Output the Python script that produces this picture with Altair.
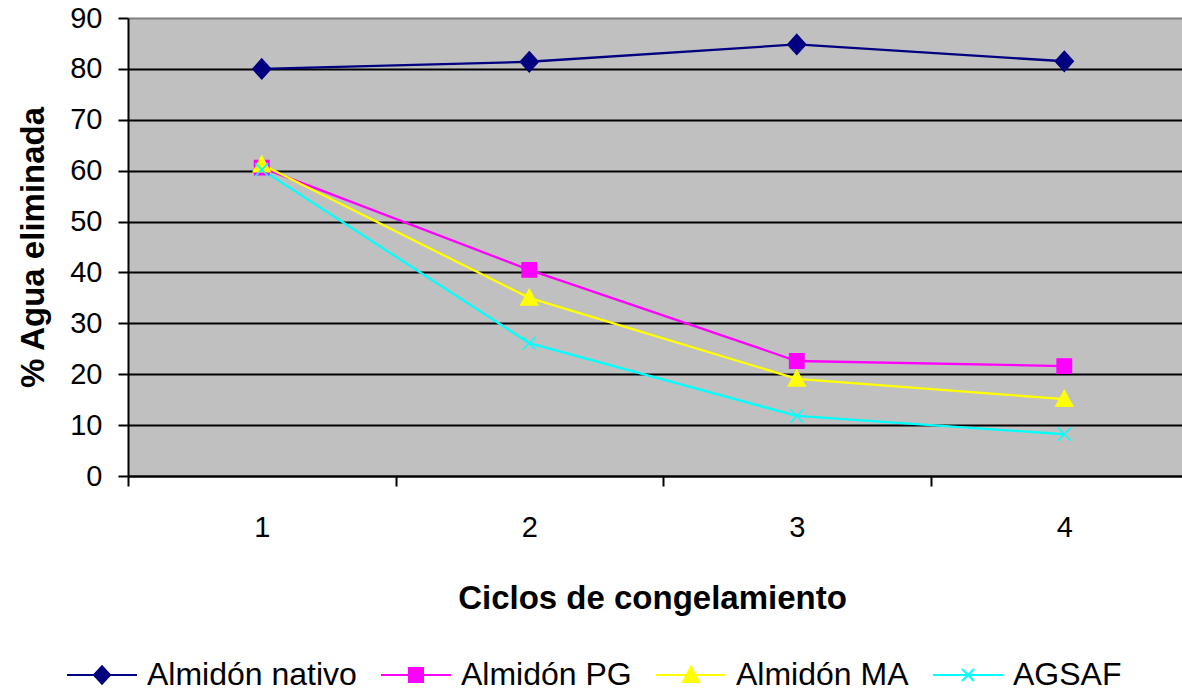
import altair as alt
import pandas as pd

# ---- data ----
ciclos = [1, 2, 3, 4]
series = ["Almidón nativo", "Almidón PG", "Almidón MA", "AGSAF"]
nativo = [80.0, 81.4, 84.8, 81.5]
pg = [60.6, 40.5, 22.6, 21.6]
ma = [61.2, 35.0, 19.1, 15.1]
agsaf = [60.2, 26.1, 11.8, 8.2]
colors = ["#000080", "#FF00FF", "#FFFF00", "#00FFFF"]
y_ticks = [0, 10, 20, 30, 40, 50, 60, 70, 80, 90]
x_ticks = [0.5, 1, 1.5, 2, 2.5, 3, 3.5, 4]

rows = []
for name, vals in zip(series, [nativo, pg, ma, agsaf]):
    for c, v in zip(ciclos, vals):
        rows.append({"serie": name, "ciclo": c, "valor": v})
df = pd.DataFrame(rows)

# marker shapes (plot)
point_paths = [
    "M0,-1L0.9,0L0,1L-0.9,0Z",
    "M-0.72,-0.72H0.72V0.72H-0.72Z",
    "M0,-0.85L0.85,0.72L-0.85,0.72Z",
    "M-0.65,-0.65L0.65,0.65M-0.65,0.65L0.65,-0.65",
]
# legend symbols: line + marker
legend_paths = [
    "M-1,0H1M0,-0.25L0.23,0L0,0.25L-0.23,0Z",
    "M-1,0H1M-0.2,-0.2H0.2V0.2H-0.2Z",
    "M-1,0H1M0,-0.24L0.23,0.2L-0.23,0.2Z",
    "M-1,0H1M-0.17,-0.17L0.17,0.17M-0.17,0.17L0.17,-0.17",
]
expr = ""
for name, p in zip(series, legend_paths):
    expr += f"datum.value === '{name}' ? '{p}' : "
expr += "'circle'"

FONT = "Liberation Sans"

x_enc = alt.X(
    "ciclo:Q",
    scale=alt.Scale(domain=[0.5, 4.44], nice=False, zero=False),
    axis=alt.Axis(
        values=x_ticks,
        labelExpr="datum.value % 1 === 0 ? '' + datum.value : ''",
        labelFlush=False,
        labelFont=FONT,
        labelFontSize=29,
        labelColor="black",
        labelPadding=27,
        grid=False,
        domainColor="black",
        domainWidth=2,
        tickColor={"condition": {"test": "datum.value % 1 === 0", "value": "transparent"}, "value": "black"},
        tickWidth=2,
        tickSize=10,
        title="Ciclos de congelamiento",
        titleFont=FONT,
        titleFontSize=33,
        titleFontWeight="bold",
        titleColor="black",
        titleX=524,
        titleY=132,
        titleAlign="center",
        titleBaseline="alphabetic",
    ),
)
y_enc = alt.Y(
    "valor:Q",
    scale=alt.Scale(domain=[0, 90], nice=False),
    axis=alt.Axis(
        values=y_ticks,
        labelFont=FONT,
        labelFontSize=29,
        labelColor="black",
        labelPadding=16,
        grid=True,
        gridColor={"condition": {"test": "datum.value === 90", "value": "#808080"}, "value": "black"},
        gridWidth=2,
        domainColor="black",
        domainWidth=2,
        tickColor="black",
        tickWidth=2,
        tickSize=10,
        title="% Agua eliminada",
        titleFont=FONT,
        titleFontSize=33,
        titleFontWeight="bold",
        titleColor="black",
        titleAngle=270,
        titleX=-95,
        titleY=229,
        titleAlign="center",
        titleBaseline="middle",
    ),
)

leg = alt.Legend(
    title=None,
    orient="none",
    legendX=-62,
    legendY=621,
    direction="horizontal",
    symbolType=alt.ExprRef(expr=expr),
    symbolSize=4900,
    symbolStrokeWidth=2,
    labelOffset=9,
    columnPadding=20,
    labelFont=FONT,
    labelFontSize=32,
    labelColor="black",
    labelLimit=500,
    padding=0,
)

# reversed domains keep the hidden colour/shape legends apart from the shown one
lines = alt.Chart(df).mark_line(strokeWidth=2.3).encode(
    x=x_enc,
    y=y_enc,
    color=alt.Color("serie:N", scale=alt.Scale(domain=series[::-1], range=colors[::-1]), legend=None),
    order=alt.Order("ciclo:Q"),
)
points = alt.Chart(df).mark_point(filled=True, size=400, opacity=1, strokeWidth=1.5).encode(
    x=x_enc,
    y=y_enc,
    fill=alt.Fill("serie:N", scale=alt.Scale(domain=series, range=colors), legend=leg),
    stroke=alt.Stroke("serie:N", scale=alt.Scale(domain=series, range=colors), legend=leg),
    shape=alt.Shape("serie:N", scale=alt.Scale(domain=series[::-1], range=point_paths[::-1]), legend=None),
)

chart = (
    alt.layer(lines, points)
    .properties(
        width=1054,
        height=458,
        padding={"left": 128, "top": 18, "right": 0, "bottom": 217},
        autosize=alt.AutoSizeParams(type="none"),
        background="white",
    )
    .configure_view(fill="#C0C0C0", stroke="transparent")
)

chart.save("out.html", embed_options={"renderer": "svg", "actions": False})
